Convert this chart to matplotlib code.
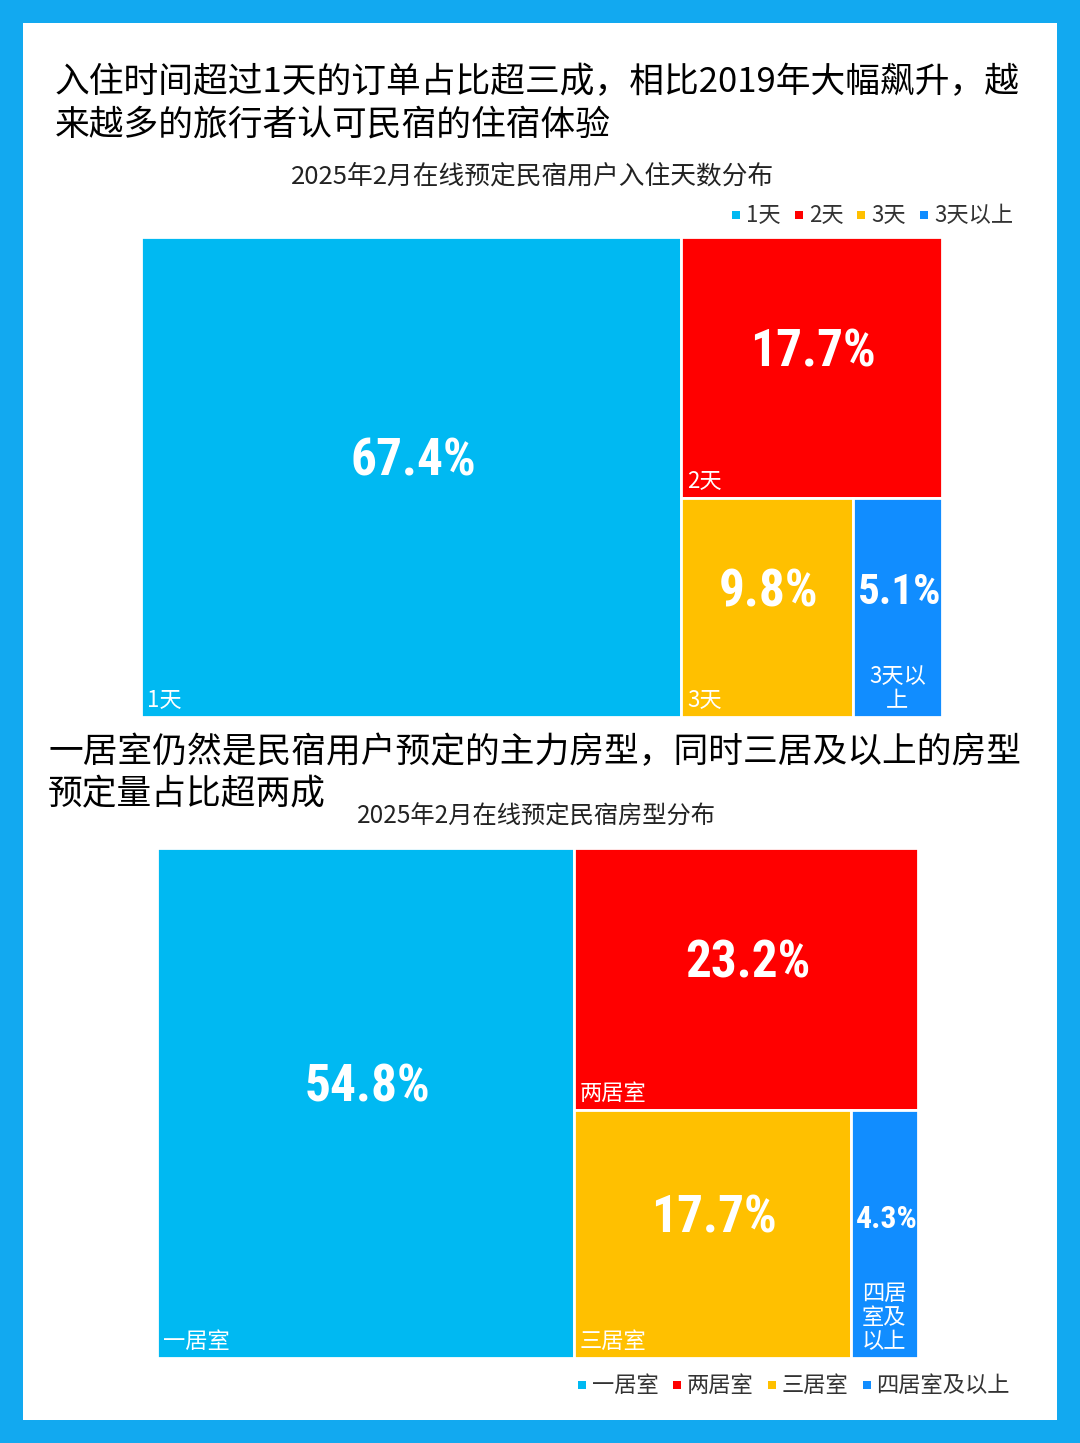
import matplotlib
matplotlib.use("Agg")
import matplotlib.pyplot as plt
from matplotlib.patches import Rectangle

plt.rcParams['font.family'] = ['Noto Sans CJK SC', 'DejaVu Sans']

# ---- data ----
title1 = ["入住时间超过1天的订单占比超三成，相比2019年大幅飙升，越",
          "来越多的旅行者认可民宿的住宿体验"]
sub1 = "2025年2月在线预定民宿用户入住天数分布"
cats1 = ["1天", "2天", "3天", "3天以上"]
vals1 = [67.4, 17.7, 9.8, 5.1]

title2 = ["一居室仍然是民宿用户预定的主力房型，同时三居及以上的房型",
          "预定量占比超两成"]
sub2 = "2025年2月在线预定民宿房型分布"
cats2 = ["一居室", "两居室", "三居室", "四居室及以上"]
vals2 = [54.8, 23.2, 17.7, 4.3]

colors = ["#00B9F2", "#FF0000", "#FFC000", "#118DFF"]

W, H = 1080, 1443
fig = plt.figure(figsize=(W / 100, H / 100), dpi=100)
fig.patch.set_facecolor("#12A9F0")
ax = fig.add_axes([0, 0, 1, 1])
ax.set_xlim(0, W)
ax.set_ylim(H, 0)
ax.axis("off")
r = fig.canvas.get_renderer()

# white panel
ax.add_patch(Rectangle((23, 23), 1034, 1397, facecolor="white", edgecolor="none"))

pct_family = ["Roboto Condensed", "Roboto", "DejaVu Sans"]


def wrap(label, width, char_px=22):
    n = max(1, int((width - 8) // char_px))
    return "\n".join(label[i:i + n] for i in range(0, len(label), n))


def treemap(x0, y0, w, h, cats, vals):
    total = sum(vals)
    # first item: full-height column on the left
    w0 = w * vals[0] / total
    rects = [(x0, y0, w0, h)]
    rx, rw = x0 + w0, w - w0
    rest = sum(vals[1:])
    h1 = h * vals[1] / rest
    rects.append((rx, y0, rw, h1))
    bottom = vals[2] + vals[3]
    w2 = rw * vals[2] / bottom
    rects.append((rx, y0 + h1, w2, h - h1))
    rects.append((rx + w2, y0 + h1, rw - w2, h - h1))
    for (x, y, cw, ch), c, v, col in zip(rects, cats, vals, colors):
        ax.add_patch(Rectangle((x, y), cw, ch, facecolor=col,
                               edgecolor="white", linewidth=2))
        t = ax.text(x + cw / 2 + 2, y + ch / 2 - 15, f"{v}%", color="white",
                    fontsize=37, fontweight="bold", family=pct_family,
                    ha="center", va="center")
        tw = t.get_window_extent(renderer=r).width
        if tw > cw - 6:
            t.set_fontsize(37 * (cw - 6) / tw)
        lab = wrap(c, cw)
        if "\n" in lab:
            # multi-line labels are centred in narrow cells
            ax.text(x + cw / 2, y + ch - 5, lab, color="white", fontsize=16,
                    ha="center", va="bottom", multialignment="center",
                    linespacing=1.05)
        else:
            ax.text(x + 6, y + ch - 5, lab, color="white", fontsize=16,
                    ha="left", va="bottom")


def legend(x_right, y, cats, fs=16):
    widths = []
    for c in cats:
        t = ax.text(0, 0, c, fontsize=fs)
        widths.append(t.get_window_extent(renderer=r).width)
        t.remove()
    gap, sq = 14, 8
    total = sum(widths) + len(cats) * (sq + 6) + (len(cats) - 1) * gap
    x = x_right - total
    for c, col, wd in zip(cats, colors, widths):
        ax.add_patch(Rectangle((x, y - sq / 2), sq, sq, facecolor=col, edgecolor="none"))
        x += sq + 6
        ax.text(x, y, c, fontsize=fs, color="#333333", ha="left", va="center")
        x += wd + gap


# chart 1
ax.text(55, 83, title1[0], fontsize=25, color="black", ha="left", va="center")
ax.text(55, 125, title1[1], fontsize=25, color="black", ha="left", va="center")
ax.text(533, 177, sub1, fontsize=18.5, color="#222222", ha="center", va="center")
legend(1013, 215, cats1)
treemap(141, 237, 801, 480, cats1, vals1)

# chart 2
ax.text(48, 753, title2[0], fontsize=25, color="black", ha="left", va="center")
ax.text(48, 795, title2[1], fontsize=25, color="black", ha="left", va="center")
ax.text(536, 817, sub2, fontsize=17.5, color="#222222", ha="center", va="center")
treemap(157, 848, 761, 510, cats2, vals2)
legend(1010, 1385, cats2)

fig.savefig("out.png", dpi=100, facecolor=fig.get_facecolor())
